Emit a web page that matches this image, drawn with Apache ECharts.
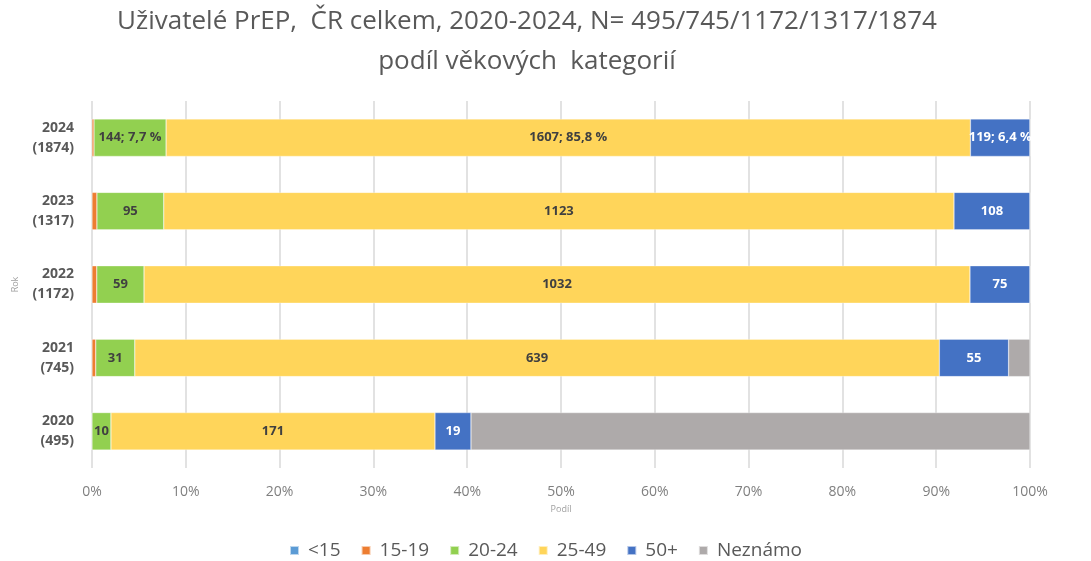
<!DOCTYPE html>
<html>
<head>
<meta charset="utf-8">
<script src="https://cdn.jsdelivr.net/npm/echarts@6/dist/echarts.min.js"></script>
<style>
  html, body { margin: 0; padding: 0; background: #fff; }
  #chart { width: 1091px; height: 561px; }
</style>
</head>
<body>
<div id="chart"></div>
<script>
    // roky odspodu nahoru
    const roky = ['2020\n(495)', '2021\n(745)', '2022\n(1172)', '2023\n(1317)', '2024\n(1874)'];
    const kategorie = ['<15', '15-19', '20-24', '25-49', '50+', 'Neznámo'];
    const barvy = ['#5B9BD5', '#ED7D31', '#92D050', '#FFD55A', '#4472C4', '#AEAAAA'];

    const pod15 = [0, 0, 0, 0, 0];
    const v15_19 = [0, 3, 6, 7, 4];
    const v20_24 = [10, 31, 59, 95, 144];
    const v25_49 = [171, 639, 1032, 1123, 1607];
    const v50plus = [19, 55, 75, 108, 119];
    const neznamo = [295, 17, 0, 0, 0];
    const xTicks = ['0%', '10%', '20%', '30%', '40%', '50%', '60%', '70%', '80%', '90%', '100%'];

    const rady = [pod15, v15_19, v20_24, v25_49, v50plus, neznamo];
    const soucty = roky.map((r, i) => rady.reduce((s, a) => s + a[i], 0));
    const detailRow = 4; // 2024 ma i procenta

    const chart = echarts.init(document.getElementById('chart'));
    const font = '"Open Sans", "Noto Sans", sans-serif';

    chart.setOption({
        backgroundColor: '#fff',
        textStyle: { fontFamily: font },
        title: [{
            text: 'Uživatelé PrEP,  ČR celkem, 2020-2024, N= 495/745/1172/1317/1874',
            left: 522, top: 4, textAlign: 'center',
            textStyle: { fontSize: 26, fontWeight: 'normal', color: '#595959', fontFamily: font }
        }, {
            text: 'podíl věkových  kategorií',
            left: 522, top: 44, textAlign: 'center',
            textStyle: { fontSize: 26, fontWeight: 'normal', color: '#595959', fontFamily: font }
        }],
        legend: {
            top: 536,
            left: 'center',
            itemWidth: 9, itemHeight: 9, itemGap: 20,
            icon: 'rect',
            textStyle: { fontSize: 19, color: '#595959', fontFamily: font, padding: [0, 0, 0, 4] },
            data: kategorie
        },
        grid: { left: 92, right: 61, top: 101, bottom: 93, containLabel: false },
        xAxis: {
            type: 'value',
            min: 0, max: 100, interval: 10,
            name: 'Podíl',
            nameLocation: 'middle',
            nameGap: 37,
            nameTextStyle: { fontSize: 9, color: '#a0a0a0' },
            axisLine: { show: false },
            axisTick: { show: false },
            splitLine: { lineStyle: { color: '#D9D9D9', width: 1.5 } },
            axisLabel: {
                color: '#7f7f7f', fontSize: 14, margin: 17,
                formatter: (v) => xTicks[Math.round(v / 10)]
            }
        },
        yAxis: {
            type: 'category',
            data: roky,
            name: 'Rok',
            nameLocation: 'middle',
            nameGap: 72,
            nameRotate: 90,
            nameTextStyle: { fontSize: 9, color: '#a0a0a0' },
            axisLine: { show: false },
            axisTick: { show: false },
            axisLabel: { color: '#595959', fontSize: 14, fontWeight: 'bold', lineHeight: 20, margin: 18 }
        },
        series: kategorie.map((k, si) => ({
            name: k,
            type: 'bar',
            stack: 'celkem',
            barWidth: '51%',
            itemStyle: { color: barvy[si], borderColor: 'rgba(255,255,255,0.6)', borderWidth: 0.5 },
            label: {
                show: si >= 2 && si <= 4,
                position: 'inside',
                fontSize: 13,
                fontWeight: 'bold',
                color: si === 4 ? '#fff' : '#404040',
                formatter: (p) => {
                    const v = rady[si][p.dataIndex];
                    if (!v) return '';
                    if (p.dataIndex === detailRow) {
                        return v + '; ' + p.value.toFixed(1).replace('.', ',') + ' %';
                    }
                    return String(v);
                }
            },
            data: rady[si].map((v, i) => v / soucty[i] * 100)
        }))
    });
</script>
</body>
</html>
